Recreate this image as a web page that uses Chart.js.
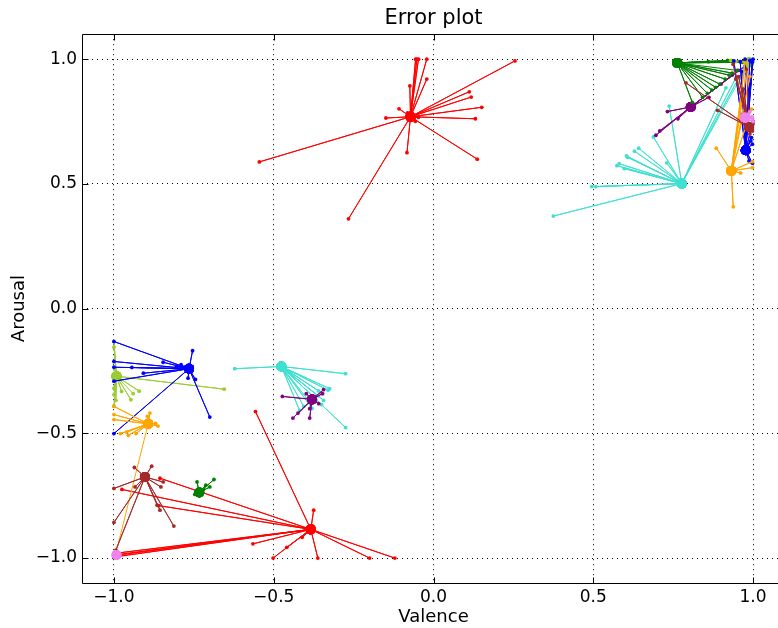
<!DOCTYPE html>
<html>
<head>
<meta charset="utf-8">
<script src="https://cdn.jsdelivr.net/npm/chart.js@4.4.0/dist/chart.umd.min.js"></script>
<style>
  html, body { margin: 0; padding: 0; background: #fff; overflow: hidden; }
  canvas { display: block; }
</style>
</head>
<body>
<canvas id="c" width="790" height="628"></canvas>
<script>
// Tick values shared by both axes
const tickValues = [-1.0, -0.5, 0.0, 0.5, 1.0];

// Each cluster: a predicted centre and the annotated points it is compared with
const redTopCenter = [-0.072, 0.769];
const redTopPoints = [[-0.056,1.0],[-0.052,1.0],[-0.047,1.0],[-0.021,1.0],[-0.021,0.92],[-0.074,0.893],[-0.108,0.801],[-0.149,0.764],[-0.545,0.588],[0.255,0.993],[0.112,0.869],[0.118,0.848],[0.151,0.807],[0.131,0.761],[0.137,0.599],[-0.047,0.767],[-0.057,0.751],[-0.083,0.625],[-0.266,0.36],[-0.081,0.785]];

const redLowCenter = [-0.384, -0.885];
const redLowPoints = [[-0.557,-0.413],[-0.375,-0.808],[-0.502,-1.0],[-0.459,-0.957],[-0.411,-0.917],[-0.565,-0.943],[-0.362,-1.0],[-0.2,-1.0],[-0.121,-1.0],[-0.856,-0.68],[-0.975,-0.725],[-0.86,-0.79],[-1.0,-0.99],[-0.99,-0.98],[-0.995,-0.995],[-0.985,-0.985]];

const turqTopCenter = [0.777, 0.501];
const turqTopPoints = [[0.7375,0.812],[0.688,0.688],[0.642,0.643],[0.629,0.631],[0.604,0.612],[0.608,0.606],[0.581,0.581],[0.574,0.573],[0.597,0.561],[0.73,0.584],[0.495,0.489],[0.508,0.489],[0.375,0.371],[0.915,0.885],[0.946,0.925],[0.972,0.965],[0.985,0.98]];

const turqLowCenter = [-0.476, -0.232];
const turqLowPoints = [[-0.622,-0.241],[-0.275,-0.261],[-0.275,-0.477],[-0.325,-0.321],[-0.33,-0.327],[-0.346,-0.341],[-0.344,-0.368],[-0.36,-0.35],[-0.35,-0.385],[-0.38,-0.4],[-0.406,-0.392],[-0.419,-0.408],[-0.39,-0.37],[-0.36,-0.33]];

const purpleTopCenter = [0.805, 0.808];
const purpleTopPoints = [[0.732,0.79],[0.765,0.761],[0.708,0.712],[0.696,0.695],[0.862,0.847],[0.935,0.936],[0.975,0.972],[0.955,0.955],[0.9,0.9]];

const purpleLowCenter = [-0.38, -0.364];
const purpleLowPoints = [[-0.473,-0.352],[-0.44,-0.439],[-0.3875,-0.439],[-0.424,-0.419],[-0.348,-0.341],[-0.344,-0.325],[-0.398,-0.341],[-0.359,-0.381],[-0.3875,-0.401]];

const greenTopCenter = [0.763, 0.985];
const greenTopPoints = [[0.935,0.944],[0.925,0.936],[0.9125,0.92],[0.896,0.9],[0.883,0.887],[0.871,0.876],[0.857,0.863],[0.842,0.847],[0.81,0.827],[0.9875,0.989],[0.967,0.987],[0.86,0.99],[0.92,0.995],[0.99,0.995],[0.95,0.955]];

const greenLowCenter = [-0.733, -0.737];
const greenLowPoints = [[-0.74,-0.695],[-0.687,-0.685],[-0.7125,-0.708],[-0.747,-0.745],[-0.7,-0.715],[-0.72,-0.725]];

const limeTopCenter = [0.9875, 0.987];
const limeTopPoints = [[0.93,0.995],[0.96,0.99],[0.995,0.975],[0.975,0.97],[1.0,0.99],[0.945,0.99]];

const limeLowCenter = [-0.992, -0.271];
const limeLowPoints = [[-0.655,-0.323],[-1.0,-0.131],[-1.0,-0.155],[-0.997,-0.241],[-1.0,-0.319],[-1.0,-0.345],[-0.994,-0.368],[-1.0,-0.391],[-0.921,-0.331],[-0.947,-0.365],[-0.976,-0.332],[-0.94,-0.341]];

const blueTopCenter = [0.977, 0.635];
const blueTopPoints = [[0.94,0.993],[0.997,0.988],[0.96,0.99],[0.975,1.0],[0.99,0.995],[1.0,1.0],[0.993,0.672],[0.998,0.659],[0.9875,0.592],[0.998,0.583],[0.995,0.685],[0.99,0.9],[0.985,0.8],[1.0,0.75],[0.965,0.95]];

const blueLowCenter = [-0.765, -0.241];
const blueLowPoints = [[-1.0,-0.132],[-0.754,-0.169],[-1.0,-0.212],[-0.944,-0.236],[-0.846,-0.215],[-1.0,-0.235],[-0.908,-0.259],[-1.0,-0.291],[-0.768,-0.279],[-0.745,-0.284],[-0.7,-0.435],[-1.0,-0.501],[-0.804,-0.231],[-0.79,-0.225]];

const orangeTopCenter = [0.932, 0.552];
const orangeTopPoints = [[0.885,0.643],[0.938,0.408],[0.961,0.544],[0.998,0.589],[0.998,0.565],[0.975,0.985],[0.99,0.93],[0.965,0.85],[0.995,0.8],[0.98,0.95],[0.97,0.78]];

const orangeLowCenter = [-0.893, -0.462];
const orangeLowPoints = [[-1.0,-0.392],[-1.0,-0.425],[-1.0,-0.445],[-0.8875,-0.419],[-0.895,-0.432],[-0.862,-0.471],[-0.87,-0.46],[-0.955,-0.508],[-0.96,-0.495],[-0.931,-0.501],[-0.98,-0.501],[-0.994,-0.981]];

const brownTopCenter = [0.9875, 0.728];
const brownTopPoints = [[0.79,0.905],[0.889,0.795],[0.9375,0.98],[0.955,0.93],[0.97,0.88],[0.998,0.712],[1.0,0.74],[0.99,0.70],[0.946,0.92],[0.98,0.96]];

const brownLowCenter = [-0.903, -0.675];
const brownLowPoints = [[-0.882,-0.632],[-0.936,-0.637],[-1.0,-0.721],[-0.846,-0.695],[-0.853,-0.715],[-0.856,-0.808],[-0.8125,-0.872],[-0.934,-0.715],[-1.0,-0.857],[-0.994,-0.968],[-0.865,-0.788]];

const violetTopCenter = [0.975, 0.765];
const violetTopPoints = [[0.998,0.763],[0.996,0.768],[0.99,0.79],[1.0,0.75],[0.985,0.78]];

const violetLowCenter = [-0.992, -0.988];
const violetLowPoints = [[-1.0,-0.995],[-0.985,-0.98],[-1.0,-0.98]];

// Drawing list (earlier entries end up underneath later ones)
const clusters = [
  ['#ff0000', redTopCenter, redTopPoints],
  ['#ff0000', redLowCenter, redLowPoints],
  ['#40e0d0', turqTopCenter, turqTopPoints],
  ['#40e0d0', turqLowCenter, turqLowPoints],
  ['#800080', purpleTopCenter, purpleTopPoints],
  ['#800080', purpleLowCenter, purpleLowPoints],
  ['#008000', greenTopCenter, greenTopPoints],
  ['#008000', greenLowCenter, greenLowPoints],
  ['#9acd32', limeTopCenter, limeTopPoints],
  ['#9acd32', limeLowCenter, limeLowPoints],
  ['#0000ff', blueTopCenter, blueTopPoints],
  ['#0000ff', blueLowCenter, blueLowPoints],
  ['#ffa500', orangeTopCenter, orangeTopPoints],
  ['#ffa500', orangeLowCenter, orangeLowPoints],
  ['#a52a2a', brownTopCenter, brownTopPoints],
  ['#a52a2a', brownLowCenter, brownLowPoints],
  ['#ee82ee', violetTopCenter, violetTopPoints],
  ['#ee82ee', violetLowCenter, violetLowPoints]
];

// centre -> point -> centre -> point ... so one polyline draws every spoke
function spokes(center, pts) {
  const out = [];
  pts.forEach(p => {
    out.push({ x: center[0], y: center[1] });
    out.push({ x: p[0], y: p[1] });
  });
  return out;
}

const datasets = clusters.map(([color, center, pts], i) => ({
  data: spokes(center, pts),
  showLine: true,
  borderColor: color,
  backgroundColor: color,
  borderWidth: 1,
  pointRadius: ctx => (ctx.dataIndex % 2 === 0 ? 5 : 1.9),
  pointBorderWidth: 0,
  pointHoverRadius: 0,
  order: clusters.length - i
}));

const fmt = v => (v < 0 ? '\u2212' : '') + Math.abs(v).toFixed(1);
const FONT = 'DejaVu Sans';

// Black frame round the axes with inward-pointing tick marks on all four sides
const frame = {
  id: 'frame',
  afterDatasetsDraw(chart) {
    const { ctx, chartArea: a, scales: { x, y } } = chart;
    const L = Math.round(a.left) + 0.5, R = Math.round(a.right) + 0.5;
    const T = Math.round(a.top) + 0.5, B = Math.round(a.bottom) + 0.5;
    ctx.save();
    ctx.strokeStyle = '#000';
    ctx.lineWidth = 1;
    ctx.beginPath();
    ctx.rect(L, T, R - L, B - T);
    const len = 6;
    tickValues.forEach(v => {
      const px = Math.round(x.getPixelForValue(v)) + 0.5;
      ctx.moveTo(px, B); ctx.lineTo(px, B - len);
      ctx.moveTo(px, T); ctx.lineTo(px, T + len);
      const py = Math.round(y.getPixelForValue(v)) + 0.5;
      ctx.moveTo(L, py); ctx.lineTo(L + len, py);
      ctx.moveTo(R, py); ctx.lineTo(R - len, py);
    });
    ctx.stroke();
    ctx.restore();
  }
};

const axisBase = (label, titlePad) => ({
  type: 'linear',
  min: -1.1,
  max: 1.1,
  afterBuildTicks: s => { s.ticks = tickValues.map(v => ({ value: v })); },
  ticks: { callback: fmt, color: '#000', font: { family: FONT, size: 17 }, padding: 4 },
  grid: { color: '#000', lineWidth: 1, drawTicks: false },
  border: { display: false, dash: [1, 4] },
  title: { display: true, text: label, color: '#000', font: { family: FONT, size: 18 }, padding: titlePad }
});

const xAxis = axisBase('Valence', { top: 0, bottom: 0 });
xAxis.afterFit = s => { s.height = 45; };
const yAxis = axisBase('Arousal', { top: 9, bottom: 0 });
yAxis.ticks.padding = 5;
yAxis.afterFit = s => { s.width = 82; };

new Chart(document.getElementById('c'), {
  type: 'scatter',
  data: { datasets },
  options: {
    responsive: false,
    animation: false,
    devicePixelRatio: 1,
    layout: { padding: { left: 0, right: 4, top: 0, bottom: 0 } },
    plugins: {
      legend: { display: false },
      tooltip: { enabled: false },
      title: {
        display: true,
        text: 'Error plot',
        fullSize: false,
        color: '#000',
        font: { family: FONT, size: 21, weight: 'normal' },
        padding: { top: 6, bottom: 3 }
      }
    },
    scales: { x: xAxis, y: yAxis }
  },
  plugins: [frame]
});
</script>
</body>
</html>
